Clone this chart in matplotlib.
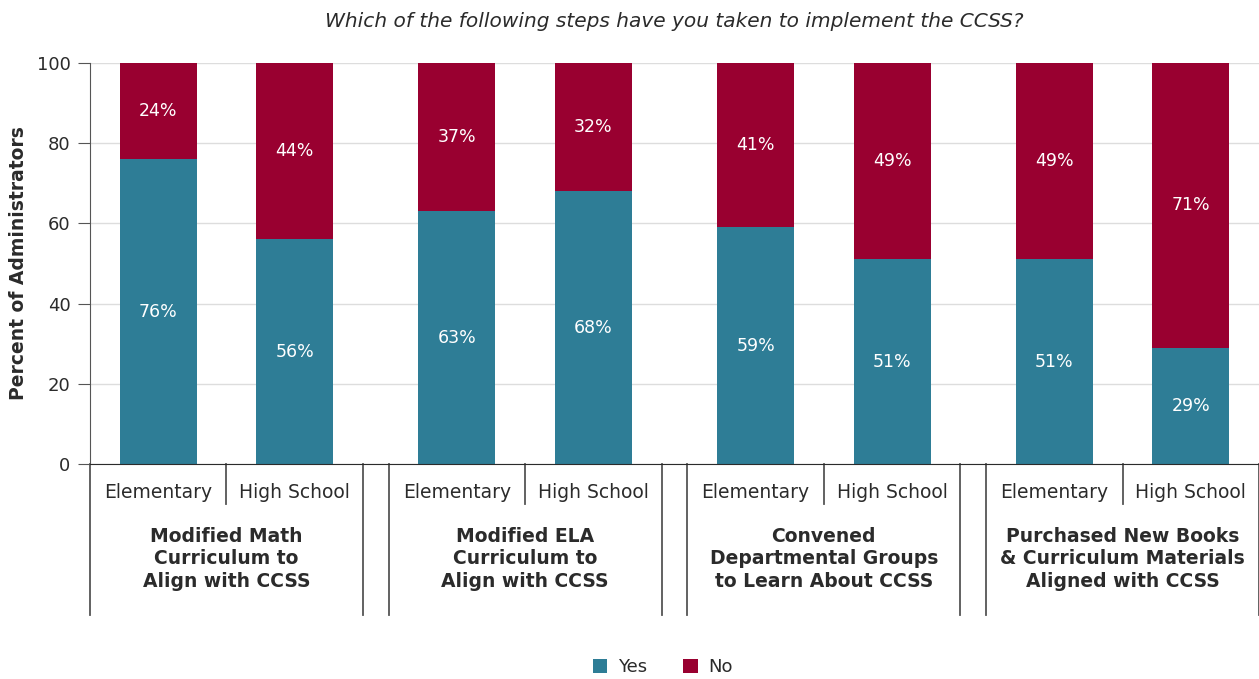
import matplotlib.pyplot as plt
import numpy as np

# survey results, percent of administrators
groups = ["Modified Math\nCurriculum to\nAlign with CCSS",
          "Modified ELA\nCurriculum to\nAlign with CCSS",
          "Convened\nDepartmental Groups\nto Learn About CCSS",
          "Purchased New Books\n& Curriculum Materials\nAligned with CCSS"]
levels = ["Elementary", "High School"]
yes_elem = [76, 63, 59, 51]
yes_high = [56, 68, 51, 29]
no_elem = [24, 37, 41, 49]
no_high = [44, 32, 49, 71]

teal = "#2e7d96"
red = "#990030"
ink = "#2b2b2b"

fig = plt.figure(figsize=(12.59, 6.79), dpi=100)
ax = fig.add_axes([90 / 1259, 1 - 464 / 679, 1169 / 1259, 401 / 679])

pitch = 299 / 273   # group width is 1, gap between groups
bw = 77 / 273
starts = np.arange(len(groups)) * pitch

for k, (yes, no) in enumerate([(yes_elem, no_elem), (yes_high, no_high)]):
    x = starts + 0.25 + 0.5 * k
    ax.bar(x, yes, bw, color=teal, label="Yes" if k == 0 else None, zorder=2)
    ax.bar(x, no, bw, bottom=yes, color=red, label="No" if k == 0 else None, zorder=2)
    for xi, y, n in zip(x, yes, no):
        ax.text(xi, y / 2, f"{y}%", color="white", ha="center", va="center", fontsize=12.5)
        ax.text(xi, y + n / 2, f"{n}%", color="white", ha="center", va="center", fontsize=12.5)

ax.set_xlim(0, starts[-1] + 1)
ax.set_ylim(0, 100)
ax.set_yticks(range(0, 101, 20))
ax.set_xticks([])
ax.grid(axis="y", color="#dddddd", lw=1, zorder=0)
for s in ["top", "right"]:
    ax.spines[s].set_visible(False)
ax.spines["left"].set_color("#555555")
ax.spines["bottom"].set_color(ink)
ax.tick_params(axis="y", length=9, color="#555555", labelsize=13, labelcolor=ink, pad=5)
ax.set_ylabel("Percent of Administrators", fontsize=13.5, fontweight="semibold", color=ink, labelpad=6)

# bracket lines and labels under the axis
tr = ax.get_xaxis_transform()
for st, name in zip(starts, groups):
    for edge in (st, st + 1):
        ax.plot([edge, edge], [0, -151 / 401], color="#555555", lw=1.3, transform=tr, clip_on=False)
    ax.plot([st + 0.5, st + 0.5], [0, -40 / 401], color="#555555", lw=1.3, transform=tr, clip_on=False)
    for k, lev in enumerate(levels):
        ax.text(st + 0.25 + 0.5 * k, -28 / 401, lev, transform=tr, ha="center", va="center",
                fontsize=13.5, color=ink)
    ax.text(st + 0.5, -95 / 401, name, transform=tr, ha="center", va="center", fontsize=13.5,
            fontweight="semibold", color=ink, linespacing=1.25)

ax.set_title("Which of the following steps have you taken to implement the CCSS?",
             fontsize=14.5, style="italic", color=ink, pad=26)

ax.legend(loc="center", bbox_to_anchor=(0.49, -203 / 401), ncol=2, frameon=False,
          fontsize=13, handlelength=0.8, handleheight=0.8, columnspacing=2.0, handletextpad=0.6,
          labelcolor=ink)

fig.savefig("out.png", dpi=100)
